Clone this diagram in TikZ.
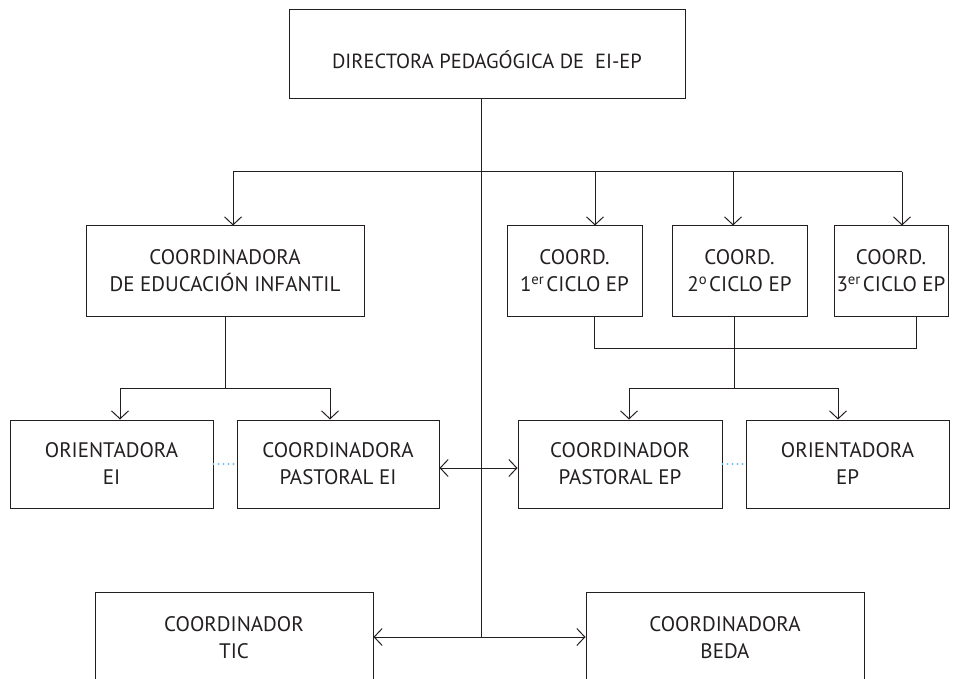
\documentclass[tikz,border=0pt]{standalone}
\usepackage{fontspec}
\setmainfont{PT Sans}
\usetikzlibrary{arrows.meta}
\definecolor{ln}{RGB}{35,31,32}
\definecolor{dotblue}{RGB}{110,195,235}
\begin{document}
\begin{tikzpicture}[x=1pt,y=-1pt,
  box/.style={draw=ln, line width=1pt, rectangle, align=center, inner sep=0pt,
    font=\fontsize{21}{27}\selectfont, text=ln},
  conn/.style={draw=ln, line width=1pt},
  arr/.style={conn, -{Straight Barb[length=8pt,width=17pt]}},
  dbl/.style={conn, {Straight Barb[length=8pt,width=17pt]}-{Straight Barb[length=8pt,width=17pt]}},
  dots/.style={draw=dotblue, line width=2.4pt, line cap=round, dash pattern=on 0pt off 5pt}]
\useasboundingbox (0,0) rectangle (964,679);

% boxes
\node[box, minimum width=396pt, minimum height=89pt, font=\fontsize{20.5}{27}\selectfont] (dir) at (487,54.5) {\raisebox{-5pt}[\height][\depth]{DIRECTORA PEDAGÓGICA DE\ \ EI-EP}};
\node[box, minimum width=278pt, minimum height=90pt] (EI) at (225,271) {COORDINADORA\\DE EDUCACIÓN INFANTIL};
\node[box, minimum width=135pt, minimum height=90pt] (C1) at (574.5,271) {COORD.\\1\textsuperscript{er}\hspace{2pt}CICLO EP};
\node[box, minimum width=135pt, minimum height=90pt] (C2) at (739.5,271) {COORD.\\2\textsuperscript{o}\hspace{2pt}CICLO EP};
\node[box, minimum width=114pt, minimum height=90pt] (C3) at (891,271) {COORD.\\3\textsuperscript{er}\hspace{2pt}CICLO EP};
\node[box, minimum width=203pt, minimum height=88pt] (OEI) at (111.5,464) {ORIENTADORA\\EI};
\node[box, minimum width=202pt, minimum height=88pt] (PEI) at (338,464) {COORDINADORA\\PASTORAL EI};
\node[box, minimum width=204pt, minimum height=88pt] (PEP) at (620,464) {COORDINADOR\\PASTORAL EP};
\node[box, minimum width=203pt, minimum height=88pt] (OEP) at (847.5,464) {ORIENTADORA\\EP};
\node[box, minimum width=278pt, minimum height=92pt] (TIC) at (234,638) {COORDINADOR\\TIC};
\node[box, minimum width=278pt, minimum height=92pt] (BEDA) at (725,638) {COORDINADORA\\BEDA};

% coordinates
\coordinate (jt) at (481,172);
\coordinate (jb) at (481,637);
\coordinate (h1L) at (233,172);
\coordinate (h1R) at (902,172);
\coordinate (a1) at (595,172);
\coordinate (a2) at (733,172);
\coordinate (e1) at (225,388);
\coordinate (eL) at (120,388);
\coordinate (eR) at (330,388);
\coordinate (b1) at (594,348);
\coordinate (b2) at (734,348);
\coordinate (b3) at (916,348);
\coordinate (b4) at (734,388);
\coordinate (d1) at (629,388);
\coordinate (d2) at (838,388);
\coordinate (m) at (0,468);

% trunk
\draw[conn] (dir.south -| jt) -- (jb);
\draw[conn] (h1L) -- (h1R);
\draw[arr] (h1L) -- (h1L |- EI.north);
\draw[arr] (a1) -- (a1 |- C1.north);
\draw[arr] (a2) -- (a2 |- C2.north);
\draw[arr] (h1R) -- (h1R |- C3.north);

% EI branch
\draw[conn] (EI.south) -- (e1);
\draw[conn] (eL) -- (eR);
\draw[arr] (eL) -- (eL |- OEI.north);
\draw[arr] (eR) -- (eR |- PEI.north);

% EP branch
\draw[conn] (b1 |- C1.south) -- (b1) -- (b3) -- (b3 |- C3.south);
\draw[conn] (C2.south -| b2) -- (b4);
\draw[conn] (d1) -- (d2);
\draw[arr] (d1) -- (d1 |- PEP.north);
\draw[arr] (d2) -- (d2 |- OEP.north);

% dotted links
\draw[dots] (OEI.east) -- (PEI.west);
\draw[dots] (PEP.east) -- (OEP.west);

% double arrows
\draw[dbl] (PEI.east |- m) -- (PEP.west |- m);
\draw[dbl] (TIC.east |- jb) -- (BEDA.west |- jb);
\end{tikzpicture}
\end{document}
